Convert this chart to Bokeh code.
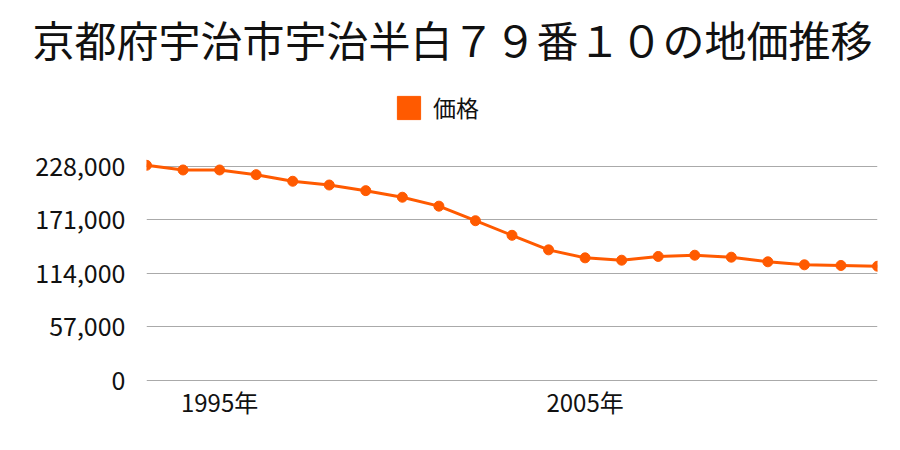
from bokeh.plotting import figure
from bokeh.models import (ColumnDataSource, FixedTicker, NumeralTickFormatter,
                          Range1d, Legend, LegendItem, Title)
from bokeh.embed import file_html
from bokeh.resources import INLINE

years = list(range(1993, 2014))
prices = [229000, 224000, 224000, 219000, 212000, 208000, 202000, 195000,
          185500, 170000, 154500, 139000, 130500, 128000, 132000, 133300,
          131200, 126300, 123100, 122400, 121600]
y_ticks = [0, 57000, 114000, 171000, 228000]
x_ticks = [1995, 2005]
x_tick_labels = {1995: "1995年", 2005: "2005年"}
series_name = "価格"
title_text = "京都府宇治市宇治半白７９番１０の地価推移"

COLOR = "#ff5a00"
FONT = "Noto Sans CJK JP"
TEXT_COLOR = "#111111"

FRAME_LEFT = 146
FRAME_TOP = 90
FRAME_BOTTOM = 381
PER_PX = 1064  # value units per pixel

src = ColumnDataSource(dict(year=years, price=prices))
p = figure(width=900, height=450, output_backend="svg", toolbar_location=None,
           min_border_left=FRAME_LEFT, min_border_right=23,
           min_border_bottom=450 - FRAME_BOTTOM, min_border_top=FRAME_TOP,
           x_range=Range1d(years[0], years[-1]),
           y_range=Range1d(-PER_PX, -PER_PX + (FRAME_BOTTOM - FRAME_TOP) * PER_PX))

p.title.text = title_text
p.title.align = "left"
p.title.offset = 32 - FRAME_LEFT
p.title.standoff = 0
p.title.text_font = FONT
p.title.text_font_size = "42px"
p.title.text_font_style = "normal"
p.title.text_color = TEXT_COLOR

# empty spacer between the title and the plotting area
spacer = Title(text=" ", text_font=FONT, text_font_size="1px", standoff=19)
p.add_layout(spacer, "above")

p.line("year", "price", source=src, line_color=COLOR, line_width=3)
p.scatter("year", "price", source=src, size=10, fill_color=COLOR, line_color=COLOR)

# swatch renderer used only for the legend (no visible data point)
swatch = p.quad(left=[float("nan")], right=[float("nan")],
                top=[float("nan")], bottom=[float("nan")],
                fill_color=COLOR, line_color=COLOR)
legend = Legend(items=[LegendItem(label=series_name, renderers=[swatch])],
                location=(394 - FRAME_LEFT, FRAME_BOTTOM - 127),
                orientation="horizontal", glyph_width=29, glyph_height=29,
                label_text_font=FONT, label_text_font_size="23px",
                label_text_color=TEXT_COLOR, label_standoff=10,
                label_text_baseline="middle", label_height=40,
                border_line_color=None, background_fill_alpha=0,
                padding=0, margin=0, spacing=0)
p.add_layout(legend)

p.xaxis.ticker = FixedTicker(ticks=x_ticks)
p.xaxis.major_label_overrides = x_tick_labels
p.yaxis.ticker = FixedTicker(ticks=y_ticks)
p.yaxis.formatter = NumeralTickFormatter(format="0,0")
for ax in (p.xaxis, p.yaxis):
    ax.axis_line_color = None
    ax.major_tick_line_color = None
    ax.minor_tick_line_color = None
    ax.major_label_text_font = FONT
    ax.major_label_text_color = TEXT_COLOR
p.xaxis.major_label_text_font_size = "24px"
p.yaxis.major_label_text_font_size = "25px"
p.xaxis.major_label_standoff = -4
p.yaxis.major_label_standoff = 15

p.xgrid.grid_line_color = None
p.ygrid.grid_line_color = "#aaaaaa"
p.ygrid.grid_line_width = 1
p.outline_line_color = None

open("out.html", "w").write(file_html(p, INLINE))
